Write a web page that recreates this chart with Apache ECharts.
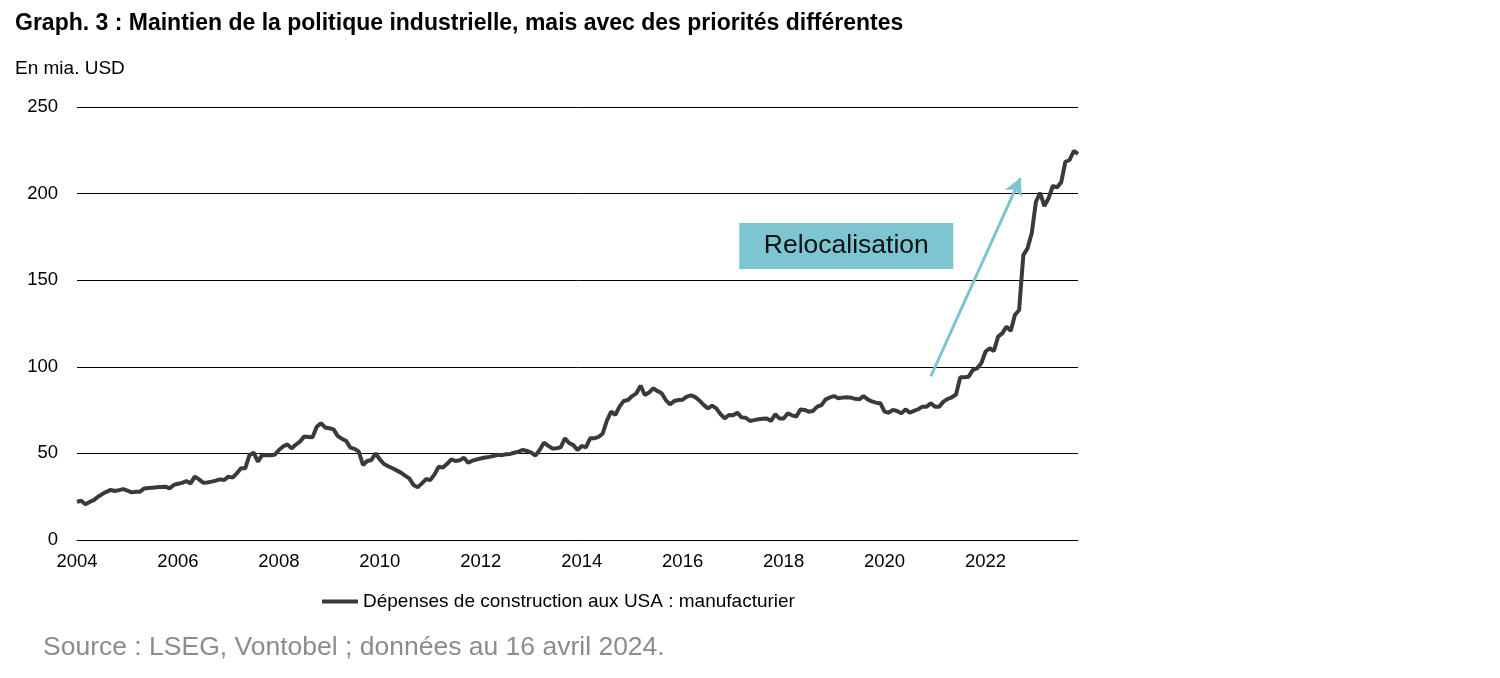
<!DOCTYPE html>
<html>
<head>
<meta charset="utf-8">
<script src="https://cdn.jsdelivr.net/npm/echarts@6/dist/echarts.min.js"></script>
<style>
  html, body { margin: 0; padding: 0; background: #fff; }
  #chart { width: 1500px; height: 678px; }
</style>
</head>
<body>
<div id="chart"></div>
<script>
// Monthly values, Jan 2004 .. Nov 2023 (bn USD)
const startYear = 2004;
const yearTicks = ['2004', '2006', '2008', '2010', '2012', '2014', '2016', '2018', '2020', '2022'];
const manufacturing = [
    // 2004
    22.1, 22.7, 20.6, 22.0, 23.0, 25.0, 26.5, 27.8, 28.9, 28.3, 28.8, 29.4,
    // 2005
    28.5, 27.5, 27.8, 27.9, 29.8, 30.0, 30.2, 30.4, 30.6, 30.8, 29.8, 31.8,
    // 2006
    32.5, 33.0, 34.0, 32.7, 36.6, 35.0, 33.1, 33.2, 33.7, 34.3, 35.0, 34.6,
    // 2007
    36.6, 36.0, 38.5, 41.4, 41.4, 49.0, 50.4, 45.2, 49.0, 49.0, 49.0, 49.2,
    // 2008
    52.0, 54.0, 55.2, 52.9, 55.0, 56.8, 59.7, 59.5, 59.3, 65.4, 67.4, 65.0,
    // 2009
    64.5, 63.9, 60.0, 58.5, 57.2, 53.3, 52.6, 51.0, 43.3, 45.6, 46.2, 50.0,
    // 2010
    46.6, 43.9, 42.6, 41.4, 40.2, 38.9, 37.2, 35.6, 31.8, 30.4, 32.7, 35.2,
    // 2011
    34.6, 37.9, 42.3, 41.8, 44.0, 46.6, 45.6, 46.0, 47.5, 44.6, 45.8, 46.5,
    // 2012
    47.1, 47.6, 48.0, 48.5, 49.2, 49.0, 49.5, 49.7, 50.4, 51.0, 52.0, 51.4,
    // 2013
    50.5, 48.7, 52.0, 56.2, 54.5, 52.9, 53.0, 53.5, 58.7, 56.0, 54.8, 52.0,
    // 2014
    54.3, 53.5, 58.7, 58.7, 59.5, 61.5, 69.0, 74.1, 72.2, 77.0, 80.3, 80.8,
    // 2015
    83.1, 84.7, 89.1, 83.7, 85.1, 87.6, 86.0, 84.7, 80.8, 78.3, 80.3, 80.8,
    // 2016
    81.0, 82.8, 83.5, 82.5, 80.5, 78.0, 76.0, 77.6, 76.0, 72.7, 70.2, 72.2,
    // 2017
    72.0, 73.5, 70.8, 70.6, 68.7, 69.2, 69.7, 70.0, 70.2, 68.7, 72.6, 70.2,
    // 2018
    70.2, 73.1, 72.0, 71.2, 75.4, 75.1, 74.1, 74.5, 77.0, 77.9, 81.2, 82.3,
    // 2019
    83.1, 81.8, 82.2, 82.4, 82.2, 81.5, 81.2, 83.1, 81.2, 80.0, 79.3, 79.0,
    // 2020
    74.1, 73.5, 75.1, 74.5, 73.1, 75.4, 73.5, 74.5, 75.5, 77.0, 77.0, 78.9,
    // 2021
    77.0, 77.0, 79.9, 81.4, 82.4, 84.0, 93.9, 94.0, 94.3, 98.2, 99.1, 102.0,
    // 2022
    108.7, 110.7, 109.1, 117.4, 119.3, 123.2, 120.7, 129.9, 132.8, 164.5, 168.4, 177.1,
    // 2023
    195.3, 200.5, 192.8, 197.3, 204.4, 203.6, 206.5, 218.4, 219.4, 224.6, 222.9
];
const seriesName = 'Dépenses de construction aux USA : manufacturier';
const arrowFrom = [203, 94.5];   // [month index, value]
const arrowTo = [224.3, 209];
const boxCenter = [182.9, 169.7];
const boxLabel = 'Relocalisation';

const fontFamily = 'Liberation Sans, Arial, sans-serif';
const chart = echarts.init(document.getElementById('chart'));

const points = manufacturing.map((v, i) => [i, v]);

const option = {
    animation: false,
    textStyle: { fontFamily: fontFamily },
    title: [
        {
            text: 'Graph. 3 : Maintien de la politique industrielle, mais avec des priorités différentes',
            left: 15, top: 12, padding: 0,
            textStyle: { fontSize: 23, fontWeight: 'bold', color: '#000', fontFamily: fontFamily }
        },
        {
            text: 'En mia. USD',
            left: 15, top: 59, padding: 0,
            textStyle: { fontSize: 19, fontWeight: 'normal', color: '#000', fontFamily: fontFamily }
        },
        {
            text: 'Source : LSEG, Vontobel ; données au 16 avril 2024.',
            left: 43, top: 634, padding: 0,
            textStyle: { fontSize: 26.5, fontWeight: 'normal', color: '#8c8c8c', fontFamily: fontFamily }
        }
    ],
    legend: {
        left: 322, top: 592, padding: 0,
        itemWidth: 36, itemHeight: 4,
        icon: 'rect',
        textStyle: { fontSize: 19, color: '#000' },
        data: [seriesName]
    },
    grid: { left: 77, right: 422, top: 107, bottom: 138 },
    xAxis: {
        type: 'value',
        min: 0,
        max: manufacturing.length - 1,
        interval: 24,
        axisLine: { show: true, lineStyle: { color: '#000', width: 1 } },
        axisTick: { show: false },
        splitLine: { show: false },
        axisLabel: {
            fontSize: 18.5, color: '#000', margin: 12,
            showMaxLabel: false,
            formatter: (v) => (v % 24 === 0 ? yearTicks[v / 24] || String(startYear + v / 12) : '')
        }
    },
    yAxis: {
        type: 'value',
        min: 0, max: 250, interval: 50,
        axisLine: { show: false },
        axisTick: { show: false },
        axisLabel: { fontSize: 18.5, color: '#000', margin: 19 },
        splitLine: { lineStyle: { color: '#000', width: 1 } }
    },
    series: [
        {
            name: seriesName,
            type: 'line',
            data: points,
            symbol: 'none',
            lineStyle: { color: '#3a3a3a', width: 4 },
            itemStyle: { color: '#3a3a3a' },
            z: 3
        },
        {
            name: 'annotation',
            type: 'line',
            data: [],
            silent: true,
            markLine: {
                silent: true,
                symbol: ['none', 'arrow'],
                symbolSize: [14, 17],
                lineStyle: { color: '#7fc4d1', width: 3, type: 'solid' },
                label: { show: false },
                data: [[{ coord: arrowFrom }, { coord: arrowTo }]]
            },
            markPoint: {
                silent: true,
                symbol: 'rect',
                symbolSize: [214, 46],
                itemStyle: { color: '#7cc5d1' },
                label: { show: true, color: '#111', fontSize: 26.5, fontFamily: fontFamily, padding: [4, 0, 0, 0] },
                data: [{ coord: boxCenter, value: boxLabel }]
            },
            z: 2
        }
    ]
};

chart.setOption(option);
</script>
</body>
</html>
